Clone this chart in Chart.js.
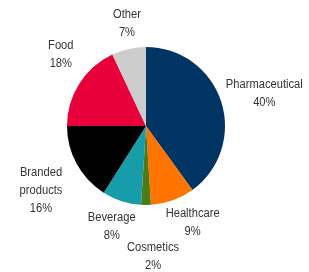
<!DOCTYPE html>
<html>
<head>
<meta charset="utf-8">
<script src="https://cdn.jsdelivr.net/npm/chart.js@4"></script>
<style>
  html, body { margin: 0; padding: 0; background: #fff; }
  #wrap { width: 309px; height: 272px; }
</style>
</head>
<body>
<div id="wrap"><canvas id="pie" width="309" height="272"></canvas></div>
<script>
// chart data
const labels = [['Pharmaceutical'], ['Healthcare'], ['Cosmetics'], ['Beverage'], ['Branded', 'products'], ['Food'], ['Other']]
const values = [40, 9, 2, 8, 16, 18, 7]
const colors = ['#003462', '#FF7300', '#4E7A17', '#169DA9', '#000000', '#E8003A', '#CCCCCC']

// small nudges so labels sit where the original put them
const labelNudge = [[-1, 0], [8, -2], [7, 26], [0, 1], [-10, 10], [-1, -15], [3, 0]]

const FONT = '12px "Liberation Sans", Arial, sans-serif'
const LINE = 18
const SQUEEZE = 0.93 // the original font is a bit condensed

const outsideLabels = {
  id: 'outsideLabels',
  afterDatasetsDraw(chart) {
    const ctx = chart.ctx
    const arcs = chart.getDatasetMeta(0).data
    ctx.save()
    ctx.font = FONT
    ctx.fillStyle = '#333333'
    ctx.textAlign = 'center'
    ctx.textBaseline = 'middle'
    arcs.forEach((arc, i) => {
      const lines = labels[i].concat([values[i] + '%'])
      const mid = (arc.startAngle + arc.endAngle) / 2
      const dx = Math.cos(mid), dy = Math.sin(mid)
      const r = arc.outerRadius + 8
      const px = arc.x + dx * r, py = arc.y + dy * r
      let w = 0
      lines.forEach(l => { w = Math.max(w, ctx.measureText(l).width * SQUEEZE) })
      const h = lines.length * LINE
      const cx = px + dx * w / 2 + labelNudge[i][0]
      const cy = py + dy * h / 2 + labelNudge[i][1]
      lines.forEach((l, k) => {
        ctx.save()
        ctx.translate(cx, cy - h / 2 + LINE / 2 + k * LINE)
        ctx.scale(SQUEEZE, 1)
        ctx.fillText(l, 0, 0)
        ctx.restore()
      })
    })
    ctx.restore()
  }
}

new Chart(document.getElementById('pie'), {
  type: 'pie',
  data: {
    labels: labels.map(l => l.join(' ')),
    datasets: [{
      data: values,
      backgroundColor: colors,
      borderWidth: 0
    }]
  },
  options: {
    responsive: false,
    animation: false,
    layout: { padding: { left: 67, right: 84, top: 47, bottom: 67 } },
    plugins: {
      legend: { display: false },
      tooltip: { enabled: false }
    }
  },
  plugins: [outsideLabels]
})
</script>
</body>
</html>
